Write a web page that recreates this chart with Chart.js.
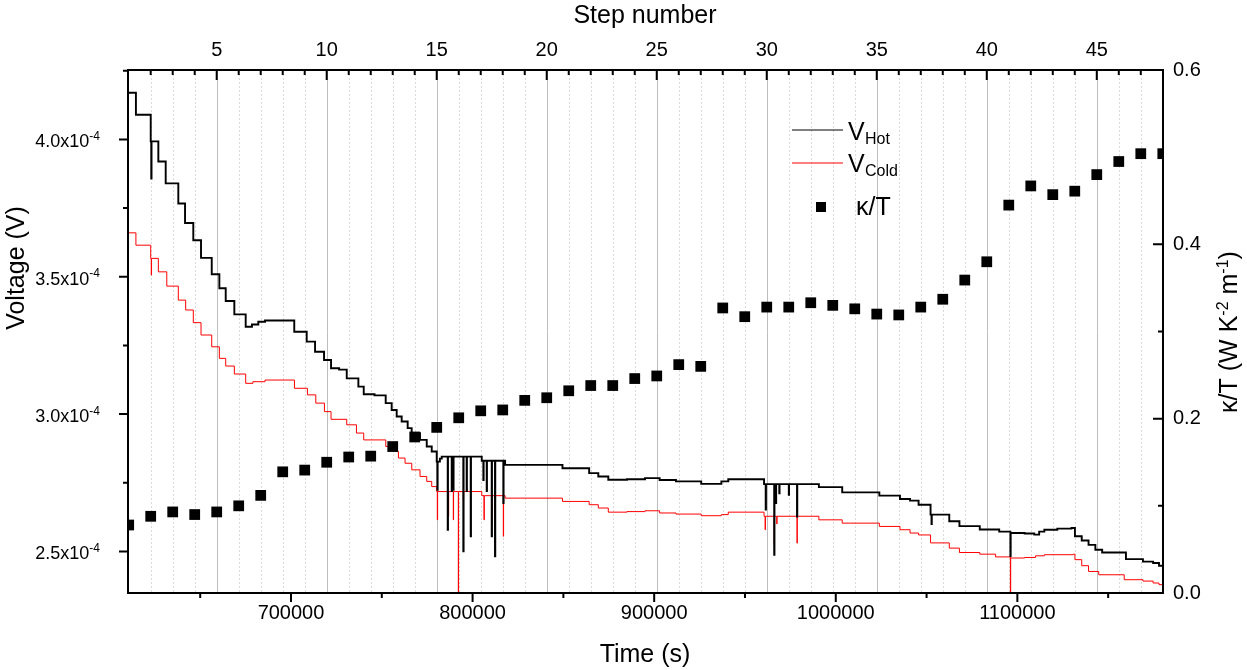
<!DOCTYPE html>
<html>
<head>
<meta charset="utf-8">
<title>Voltage and kappa/T vs time</title>
<script src="https://cdn.jsdelivr.net/npm/chart.js@4.4.0/dist/chart.umd.min.js"></script>
<style>
  html, body { margin: 0; padding: 0; background: #fff; }
  canvas { display: block; }
</style>
</head>
<body>
<canvas id="chart" width="1247" height="670"></canvas>
<script>
// kappa/T per step (top axis)
const stepNumbers = [1, 2, 3, 4, 5, 6, 7, 8, 9, 10, 11, 12, 13, 14, 15, 16, 17, 18, 19, 20, 21, 22, 23, 24,
  25, 26, 27, 28, 29, 30, 31, 32, 33, 34, 35, 36, 37, 38, 39, 40, 41, 42, 43, 44, 45, 46, 47, 48];
const kappaOverT = [0.078, 0.088, 0.093, 0.090, 0.093, 0.100, 0.112, 0.139, 0.141, 0.150,
  0.156, 0.157, 0.168, 0.179, 0.190, 0.201, 0.209, 0.210, 0.221, 0.224,
  0.232, 0.238, 0.238, 0.246, 0.249, 0.262, 0.260, 0.327, 0.317, 0.328,
  0.328, 0.333, 0.330, 0.326, 0.320, 0.319, 0.328, 0.337, 0.359, 0.380,
  0.445, 0.467, 0.457, 0.461, 0.480, 0.495, 0.504, 0.504];

// V_Hot, level changes (time in s, voltage in 1e-4 V), drawn stepped
const hotTime = [610240, 614600, 622750, 623050, 623200, 626950, 631000, 637950, 641650, 646200,
  650450, 656350, 660550, 664050, 668800, 675050, 678500, 682000, 685700, 701800,
  708650, 713250, 718200, 722050, 726500, 730700, 737100, 740050, 746000, 752150,
  755450, 758200, 760950, 764250, 766450, 771050, 774750, 777500, 780250, 780580,
  780750, 782000, 783000, 786300, 786450, 788500, 788650, 789380, 789530, 794890,
  795050, 796730, 796880, 798960, 799110, 805050, 805930, 806080, 807770, 807920,
  810530, 810680, 812340, 812490, 816920, 817070, 817900, 849500, 864200, 869230,
  874740, 885000, 894950, 903000, 912000, 925900, 937000, 940800, 960500, 961410,
  961560, 966090, 966240, 967030, 967180, 968900, 969050, 974130, 974280, 978650,
  978800, 990700, 1003550, 1024000, 1035350, 1040900, 1045600, 1052200, 1052720, 1052870,
  1062500, 1068100, 1079300, 1090000, 1096170, 1096320, 1104000, 1109300, 1112000, 1114850,
  1122000, 1129800, 1131700, 1135450, 1139200, 1142950, 1146700, 1159800, 1169150, 1174750,
  1178000, 1180200];
const hotVolt = [4.170, 4.090, 3.993, 3.858, 3.993, 3.920, 3.840, 3.767, 3.696, 3.633,
  3.569, 3.509, 3.458, 3.412, 3.363, 3.318, 3.326, 3.336, 3.341, 3.300,
  3.264, 3.227, 3.197, 3.167, 3.162, 3.130, 3.100, 3.072, 3.068, 3.040,
  3.015, 2.991, 2.973, 2.949, 2.930, 2.906, 2.882, 2.864, 2.827, 2.724,
  2.827, 2.838, 2.845, 2.579, 2.845, 2.720, 2.845, 2.724, 2.845, 2.500,
  2.845, 2.720, 2.845, 2.555, 2.845, 2.830, 2.760, 2.830, 2.720, 2.830,
  2.555, 2.830, 2.482, 2.830, 2.676, 2.830, 2.815, 2.803, 2.785, 2.773,
  2.761, 2.763, 2.767, 2.760, 2.755, 2.746, 2.755, 2.763, 2.745, 2.652,
  2.745, 2.488, 2.745, 2.676, 2.745, 2.712, 2.745, 2.706, 2.745, 2.627,
  2.745, 2.734, 2.715, 2.703, 2.691, 2.685, 2.670, 2.634, 2.600, 2.634,
  2.610, 2.592, 2.580, 2.572, 2.483, 2.567, 2.565, 2.561, 2.572, 2.579,
  2.583, 2.585, 2.555, 2.540, 2.524, 2.506, 2.496, 2.472, 2.463, 2.458,
  2.448, 2.448];

// V_Cold, level changes (time in s, voltage in 1e-4 V), drawn stepped
const coldTime = [610240, 614600, 622750, 623050, 623200, 626950, 631600, 637950, 642000, 646200,
  650450, 656350, 660550, 664050, 668800, 675050, 679000, 685700, 701900, 709050,
  713650, 718400, 722050, 730700, 736050, 740050, 752200, 757300, 759150, 762800,
  766500, 771050, 774750, 777500, 780250, 780580, 780730, 786670, 786820, 789380,
  789530, 792140, 792290, 794890, 795040, 805050, 806290, 806440, 810530, 810680,
  812340, 812490, 816920, 817070, 817900, 849500, 864200, 869230, 874740, 885000,
  894950, 903000, 912000, 925900, 937000, 940800, 960500, 961100, 961250, 966090,
  966240, 967500, 967650, 978650, 978800, 990700, 1003550, 1024000, 1035350, 1040900,
  1045600, 1052200, 1062500, 1068100, 1079300, 1088000, 1096170, 1096320, 1104000, 1110000,
  1114850, 1130800, 1131700, 1135450, 1139200, 1144800, 1158850, 1169150, 1174750, 1178000,
  1180200];
const coldVolt = [3.660, 3.615, 3.567, 3.506, 3.567, 3.518, 3.466, 3.415, 3.379, 3.333,
  3.288, 3.245, 3.203, 3.175, 3.146, 3.112, 3.118, 3.124, 3.094, 3.070,
  3.040, 3.009, 2.981, 2.961, 2.931, 2.906, 2.882, 2.864, 2.840, 2.821,
  2.797, 2.773, 2.755, 2.736, 2.718, 2.615, 2.718, 2.627, 2.718, 2.615,
  2.718, 2.300, 2.718, 2.688, 2.718, 2.703, 2.615, 2.703, 2.603, 2.703,
  2.530, 2.703, 2.555, 2.703, 2.694, 2.682, 2.670, 2.658, 2.643, 2.645,
  2.648, 2.640, 2.636, 2.630, 2.634, 2.643, 2.628, 2.579, 2.628, 2.524,
  2.628, 2.600, 2.628, 2.530, 2.628, 2.615, 2.603, 2.591, 2.579, 2.567,
  2.560, 2.531, 2.512, 2.496, 2.490, 2.480, 2.300, 2.476, 2.478, 2.484,
  2.488, 2.490, 2.470, 2.448, 2.427, 2.415, 2.397, 2.392, 2.385, 2.379,
  2.379];

// tick values
const timeTicks = [700000, 800000, 900000, 1000000, 1100000];
const stepTicks = [5, 10, 15, 20, 25, 30, 35, 40, 45];
const voltTicks = [2.5, 3.0, 3.5, 4.0];
const kappaTicks = [0, 0.2, 0.4, 0.6];

const FONT = '"Liberation Sans", Arial, sans-serif';

function fixedSize(size) {
  return function (scale) {
    if (scale.isHorizontal()) scale.height = size;
    else scale.width = size;
  };
}

function useTicks(values) {
  return function (scale) {
    scale.ticks = values.map(function (v) { return { value: v }; });
  };
}

function tickFont() {
  return { family: FONT, size: 20 };
}

// text pieces with raised/lowered parts; align 'center' or 'right' at x
function richText(ctx, parts, x, y, align) {
  var total = 0;
  parts.forEach(function (p) {
    ctx.font = p.size + 'px ' + FONT;
    p.w = ctx.measureText(p.text).width;
    total += p.w;
  });
  var cx = align === 'right' ? x - total : x - total / 2;
  parts.forEach(function (p) {
    ctx.font = p.size + 'px ' + FONT;
    ctx.fillText(p.text, cx, y + (p.dy || 0));
    cx += p.w;
  });
}

const axesPlugin = {
  id: 'axesDecor',
  beforeDatasetsDraw: function (chart) {
    var ctx = chart.ctx, a = chart.chartArea, sx = chart.scales.x2;
    ctx.save();
    ctx.lineWidth = 1;
    for (var s = 2; s <= 47; s++) {
      var px = Math.round(sx.getPixelForValue(s)) + 0.5;
      if (s % 5 === 0) { ctx.strokeStyle = '#bdbdbd'; ctx.setLineDash([]); }
      else { ctx.strokeStyle = '#d9d9d9'; ctx.setLineDash([2, 2]); }
      ctx.beginPath();
      ctx.moveTo(px, a.top);
      ctx.lineTo(px, a.bottom);
      ctx.stroke();
    }
    ctx.restore();
  },
  afterDraw: function (chart) {
    var ctx = chart.ctx, a = chart.chartArea, sc = chart.scales;
    ctx.save();
    ctx.strokeStyle = '#000';
    ctx.fillStyle = '#000';
    ctx.lineWidth = 2;
    ctx.beginPath();
    // bottom ticks, outward
    for (var t = 650000; t <= 1150000; t += 50000) {
      var px = sc.x.getPixelForValue(t);
      var len = t % 100000 === 0 ? 9 : 5;
      ctx.moveTo(px, a.bottom); ctx.lineTo(px, a.bottom + len);
    }
    // left ticks, outward
    for (var v = 2.5; v <= sc.y.max; v += 0.25) {
      var py = sc.y.getPixelForValue(v);
      var l2 = Math.abs(v * 2 - Math.round(v * 2)) < 1e-6 ? 9 : 5;
      ctx.moveTo(a.left - l2, py); ctx.lineTo(a.left, py);
    }
    // top ticks, inward
    for (var s = 2; s <= 47; s++) {
      var qx = sc.x2.getPixelForValue(s);
      ctx.moveTo(qx, a.top); ctx.lineTo(qx, a.top + (s % 5 === 0 ? 10 : 5));
    }
    // right ticks, inward
    for (var k = 1; k <= 5; k++) {
      var qy = sc.y2.getPixelForValue(k / 10);
      ctx.moveTo(a.right, qy); ctx.lineTo(a.right - (k % 2 === 0 ? 10 : 5), qy);
    }
    ctx.stroke();
    ctx.strokeRect(a.left, a.top, a.right - a.left, a.bottom - a.top);

    // left tick labels with exponent
    ctx.textBaseline = 'alphabetic';
    ctx.textAlign = 'left';
    voltTicks.forEach(function (val) {
      var y = sc.y.getPixelForValue(val);
      richText(ctx, [
        { text: val.toFixed(1) + 'x10', size: 18 },
        { text: '-4', size: 12, dy: -7.5 }
      ], 100, y + 8, 'right');
    });

    // axis titles
    ctx.textBaseline = 'middle';
    ctx.textAlign = 'center';
    ctx.font = '25px ' + FONT;
    ctx.fillText('Step number', 645, 16);
    ctx.fillText('Time (s)', 645, 655);
    ctx.save();
    ctx.translate(17, 268);
    ctx.rotate(-Math.PI / 2);
    ctx.fillText('Voltage (V)', 0, 0);
    ctx.restore();
    ctx.save();
    ctx.translate(1228, 332);
    ctx.rotate(-Math.PI / 2);
    ctx.textAlign = 'left';
    ctx.textBaseline = 'alphabetic';
    richText(ctx, [
      { text: '\u03BA/T (W K', size: 25 },
      { text: '-2', size: 16, dy: -9 },
      { text: ' m', size: 25 },
      { text: '-1', size: 16, dy: -9 },
      { text: ')', size: 25 }
    ], 0, 9, 'center');
    ctx.restore();

    // legend
    ctx.lineWidth = 1;
    ctx.strokeStyle = '#000';
    ctx.beginPath(); ctx.moveTo(792, 130); ctx.lineTo(843, 130); ctx.stroke();
    ctx.strokeStyle = '#ff0000';
    ctx.beginPath(); ctx.moveTo(792, 163); ctx.lineTo(843, 163); ctx.stroke();
    ctx.fillRect(816, 202, 10, 10);
    ctx.textAlign = 'left';
    ctx.textBaseline = 'alphabetic';
    ctx.font = '25px ' + FONT;
    ctx.fillText('V', 848, 140);
    ctx.fillText('V', 848, 172);
    ctx.fillText('\u03BA/T', 856, 215);
    ctx.font = '16px ' + FONT;
    ctx.fillText('Hot', 865, 144);
    ctx.fillText('Cold', 865, 176);
    ctx.restore();
  }
};

new Chart(document.getElementById('chart'), {
  type: 'line',
  data: {
    datasets: [
      {
        type: 'scatter',
        label: '\u03BA/T',
        data: stepNumbers.map(function (s, i) { return { x: s, y: kappaOverT[i] }; }),
        xAxisID: 'x2',
        yAxisID: 'y2',
        pointStyle: 'rect',
        pointRadius: 7.6,
        pointBackgroundColor: '#000',
        pointBorderWidth: 0,
        showLine: false,
        clip: 0
      },
      {
        label: 'V_Hot',
        data: hotTime.map(function (t, i) { return { x: t, y: hotVolt[i] }; }),
        xAxisID: 'x',
        yAxisID: 'y',
        borderColor: '#000',
        borderWidth: 1.9,
        pointRadius: 0,
        stepped: true,
        fill: false
      },
      {
        label: 'V_Cold',
        data: coldTime.map(function (t, i) { return { x: t, y: coldVolt[i] }; }),
        xAxisID: 'x',
        yAxisID: 'y',
        borderColor: '#ff0000',
        borderWidth: 1,
        pointRadius: 0,
        stepped: true,
        fill: false
      }
    ]
  },
  options: {
    responsive: false,
    animation: false,
    events: [],
    layout: { padding: 0 },
    plugins: { legend: { display: false }, tooltip: { enabled: false } },
    scales: {
      x: {
        type: 'linear', position: 'bottom', min: 610240, max: 1180200,
        afterFit: fixedSize(77), afterBuildTicks: useTicks(timeTicks),
        grid: { display: false, drawTicks: false }, border: { display: false },
        ticks: { color: '#000', font: tickFont(), padding: 8, maxRotation: 0, autoSkip: false,
          callback: function (v) { return String(v); } }
      },
      x2: {
        type: 'linear', position: 'top', min: 0.968, max: 48.01,
        afterFit: fixedSize(70), afterBuildTicks: useTicks(stepTicks),
        grid: { display: false, drawTicks: false }, border: { display: false },
        ticks: { color: '#000', font: tickFont(), padding: 8, maxRotation: 0, autoSkip: false,
          callback: function (v) { return String(v); } }
      },
      y: {
        type: 'linear', position: 'left', min: 2.3486, max: 4.2529,
        afterFit: fixedSize(128), afterBuildTicks: useTicks(voltTicks),
        grid: { display: false, drawTicks: false }, border: { display: false },
        ticks: { display: false }
      },
      y2: {
        type: 'linear', position: 'right', min: 0, max: 0.6,
        afterFit: fixedSize(84), afterBuildTicks: useTicks(kappaTicks),
        grid: { display: false, drawTicks: false }, border: { display: false },
        ticks: { color: '#000', font: tickFont(), padding: 10, autoSkip: false,
          callback: function (v) { return v.toFixed(1); } }
      }
    }
  },
  plugins: [axesPlugin]
});
</script>
</body>
</html>
